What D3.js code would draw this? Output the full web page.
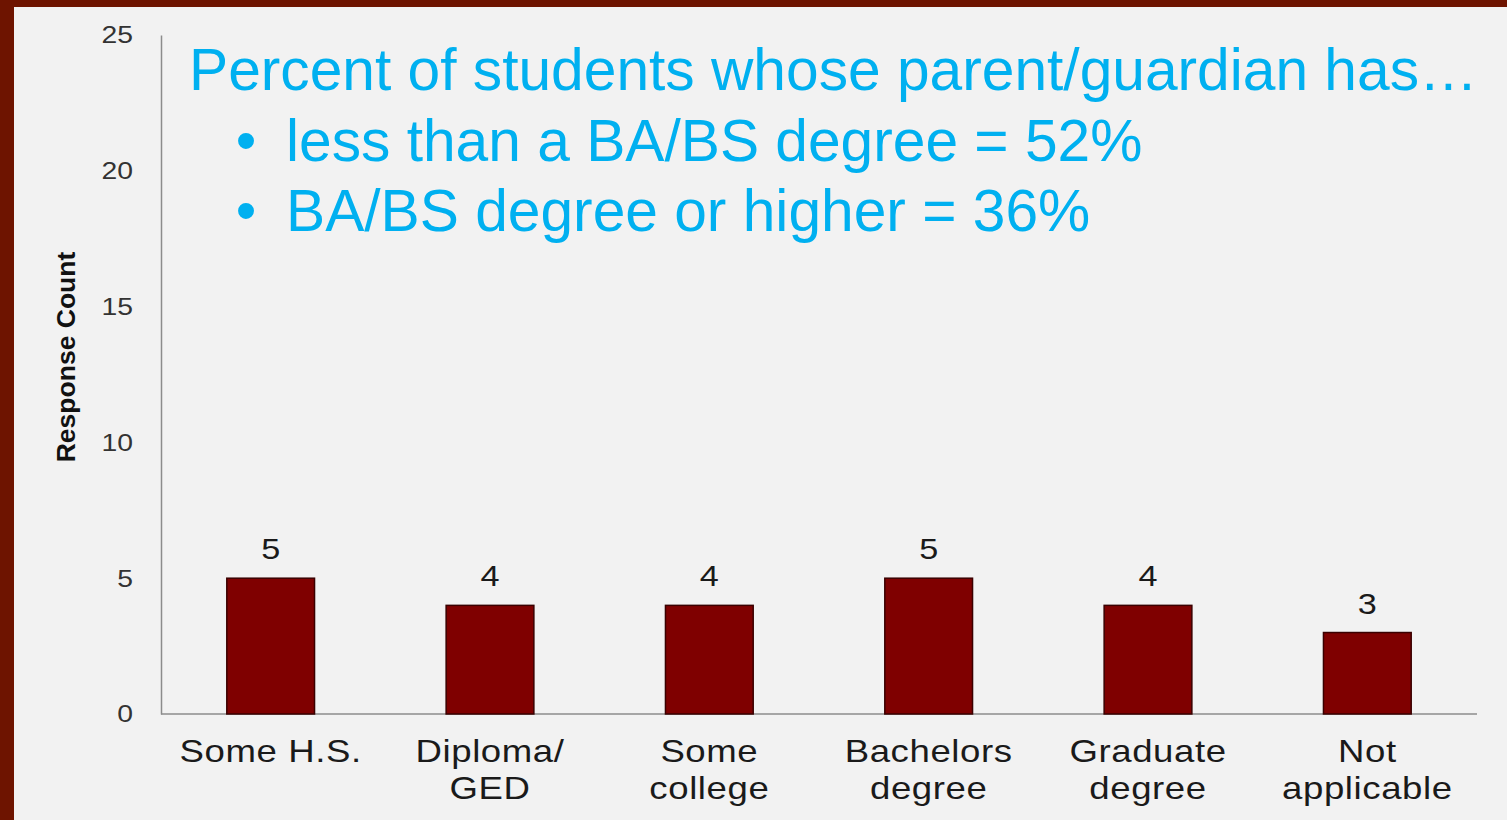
<!DOCTYPE html>
<html><head><meta charset="utf-8">
<script src="https://cdn.jsdelivr.net/npm/d3@7"></script>
<style>
html,body{margin:0;padding:0;background:#6e1400;}
svg{display:block;}
</style></head>
<body>
<svg id="chart" width="1507" height="820"></svg>
<script>
const categories = [["Some H.S."], ["Diploma/", "GED"], ["Some", "college"], ["Bachelors", "degree"], ["Graduate", "degree"], ["Not", "applicable"]];
const values = [5, 4, 4, 5, 4, 3];
const yTicks = [0, 5, 10, 15, 20, 25];
const titleLine = "Percent of students whose parent/guardian has…";
const bullets = ["less than a BA/BS degree = 52%", "BA/BS degree or higher = 36%"];
const yTitle = "Response Count";

const svg = d3.select("#chart");
const W = 1507, H = 820;
svg.append("rect").attr("x", 0).attr("y", 0).attr("width", W).attr("height", H).attr("fill", "#6e1400");
svg.append("rect").attr("x", 14).attr("y", 7).attr("width", W - 14).attr("height", H - 7).attr("fill", "#f2f2f2");

const mLeft = 161, mRight = 1477, mTop = 35, mBottom = 714;
const x = d3.scaleBand().domain(d3.range(categories.length)).range([mLeft, mRight]).paddingInner(0.6).paddingOuter(0.3);
const y = d3.scaleLinear().domain([0, 25]).range([mBottom, mTop]);

const font = "'Liberation Sans', Arial, sans-serif";
const sx = 1.18; // horizontal stretch of chart text

// y axis
const yAxis = d3.axisLeft(y).tickValues(yTicks).tickSize(0).tickFormat("");
const yg = svg.append("g").attr("transform", `translate(${mLeft},0)`).call(yAxis);
yg.select(".domain").attr("stroke", "#8c8c8c").attr("stroke-width", 1.5);
svg.append("g").selectAll("text").data(yTicks).join("text")
  .attr("transform", d => `translate(133,${y(d)}) scale(${sx},1)`)
  .attr("text-anchor", "end").attr("dy", "0.35em")
  .attr("font-family", font).attr("font-size", 24).attr("fill", "#333")
  .text(d => d);

// x axis
const xAxis = d3.axisBottom(x).tickSize(0).tickFormat("");
const xg = svg.append("g").attr("transform", `translate(0,${mBottom})`).call(xAxis);
xg.select(".domain").attr("stroke", "#8c8c8c").attr("stroke-width", 1.5).attr("d", `M${mLeft},0H${mRight}`);

// category labels
categories.forEach((lines, i) => {
  const cx = x(i) + x.bandwidth() / 2;
  const t = svg.append("text")
    .attr("transform", `translate(${cx},762) scale(${sx},1)`)
    .attr("text-anchor", "middle")
    .attr("font-family", font).attr("font-size", 31).attr("letter-spacing", 0.5)
    .attr("fill", "#1a1a1a");
  lines.forEach((l, j) => {
    t.append("tspan").attr("x", 0).attr("dy", j === 0 ? 0 : 37).text(l);
  });
});

// bars
svg.append("g").selectAll("rect").data(values).join("rect")
  .attr("x", (d, i) => x(i))
  .attr("y", d => y(d))
  .attr("width", x.bandwidth())
  .attr("height", d => mBottom - y(d))
  .attr("fill", "#7f0000")
  .attr("stroke", "#3a0000")
  .attr("stroke-width", 1.5);

// value labels
svg.append("g").selectAll("text").data(values).join("text")
  .attr("transform", (d, i) => `translate(${x(i) + x.bandwidth() / 2},${y(d) - 19}) scale(${sx},1)`)
  .attr("text-anchor", "middle")
  .attr("font-family", font).attr("font-size", 29).attr("fill", "#1a1a1a")
  .text(d => d);

// y title
svg.append("text")
  .attr("transform", `translate(75,357) rotate(-90)`)
  .attr("text-anchor", "middle")
  .attr("font-family", font).attr("font-size", 26.5).attr("font-weight", "bold").attr("fill", "#111")
  .text(yTitle);

// title annotation
const tf = 58.7;
svg.append("text").attr("x", 189).attr("y", 90)
  .attr("font-family", font).attr("font-size", tf).attr("fill", "#00b0f0")
  .text(titleLine);
bullets.forEach((b, i) => {
  const yy = 161 + i * 70;
  svg.append("text").attr("x", 246).attr("y", yy).attr("text-anchor", "middle")
    .attr("font-family", font).attr("font-size", tf).attr("fill", "#00b0f0").text("•");
  svg.append("text").attr("x", 286).attr("y", yy)
    .attr("font-family", font).attr("font-size", tf).attr("fill", "#00b0f0").text(b);
});
</script>
</body></html>
